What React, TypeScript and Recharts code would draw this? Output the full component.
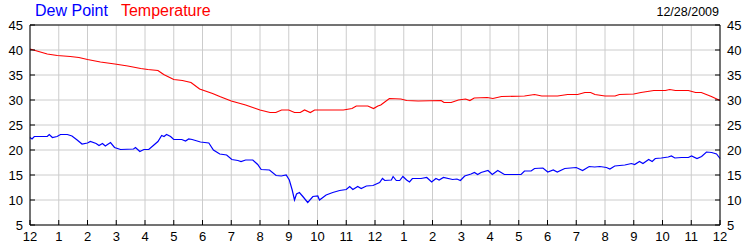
import { LineChart, Line, XAxis, YAxis, CartesianGrid } from 'recharts';

// hours since midnight, value in °F
const temperature: [number, number][] = [
  [0, 40.2], [0.3, 39.7], [0.6, 39.2], [0.95, 38.9], [1.4, 38.7], [1.7, 38.5], [2.0, 38.1],
  [2.45, 37.6], [2.95, 37.2], [3.4, 36.8], [3.85, 36.3], [4.1, 36.1], [4.45, 35.9], [4.65, 35.1],
  [5.0, 34.1], [5.3, 33.9], [5.6, 33.5], [5.9, 32.2], [6.35, 31.3], [6.6, 30.7], [7.0, 29.8],
  [7.5, 29.0], [8.0, 28.0], [8.35, 27.5], [8.55, 27.5], [8.75, 28.0], [9.0, 28.0], [9.2, 27.5],
  [9.4, 27.5], [9.55, 28.0], [9.75, 27.5], [9.9, 28.0], [10.9, 28.0], [11.2, 28.3], [11.35, 28.8],
  [11.75, 28.8], [11.95, 28.3], [12.1, 28.8], [12.2, 29.0], [12.5, 30.3], [12.9, 30.2],
  [13.1, 29.9], [13.5, 29.8], [14.3, 29.9], [14.4, 29.5], [14.65, 29.5], [14.9, 30.0],
  [15.15, 30.2], [15.3, 29.9], [15.45, 30.4], [15.9, 30.5], [16.1, 30.3], [16.4, 30.7],
  [17.2, 30.8], [17.55, 31.1], [17.8, 30.8], [18.35, 30.8], [18.7, 31.1], [19.05, 31.1],
  [19.3, 31.5], [19.5, 31.5], [19.65, 31.1], [20.0, 30.8], [20.35, 30.8], [20.5, 31.1],
  [21.0, 31.2], [21.25, 31.5], [21.7, 31.9], [22.1, 31.9], [22.25, 32.1], [22.45, 31.9],
  [22.9, 31.9], [23.15, 31.5], [23.35, 31.5], [23.7, 30.7], [24.0, 29.9],
];

const dewPoint: [number, number][] = [
  [0, 22.5], [0.07, 22.2], [0.15, 22.7], [0.6, 22.7], [0.67, 23.1], [0.78, 22.5], [0.94, 22.7],
  [1.06, 23.1], [1.3, 23.1], [1.46, 22.8], [1.64, 22.0], [1.81, 21.2], [2.0, 21.4], [2.1, 21.7],
  [2.3, 21.3], [2.4, 20.9], [2.52, 21.3], [2.62, 20.8], [2.8, 21.5], [2.94, 20.5], [3.15, 20.1],
  [3.6, 20.2], [3.67, 20.5], [3.82, 19.7], [3.96, 20.1], [4.13, 20.1], [4.31, 21.0], [4.45, 21.7],
  [4.58, 22.9], [4.66, 22.7], [4.75, 23.1], [4.89, 22.7], [5.0, 22.1], [5.28, 22.1], [5.41, 21.8],
  [5.52, 22.2], [5.64, 22.1], [5.93, 21.6], [6.22, 21.4], [6.38, 20.0], [6.6, 19.2], [6.84, 19.0],
  [7.02, 18.1], [7.23, 17.9], [7.34, 17.7], [7.5, 18.0], [7.75, 18.0], [7.92, 17.1], [8.04, 16.1],
  [8.33, 16.0], [8.56, 14.9], [8.74, 14.8], [8.91, 15.0], [9.02, 14.0], [9.12, 12.0], [9.2, 10.0],
  [9.27, 11.2], [9.37, 11.5], [9.49, 10.7], [9.66, 9.5], [9.84, 10.7], [10.01, 10.8], [10.07, 10.0],
  [10.3, 11.0], [10.53, 11.5], [10.77, 11.9], [11.0, 12.1], [11.12, 12.7], [11.23, 12.1],
  [11.4, 12.7], [11.52, 12.3], [11.7, 12.8], [11.93, 12.9], [12.16, 13.5], [12.26, 14.3],
  [12.34, 13.9], [12.57, 14.0], [12.63, 14.7], [12.74, 13.9], [12.86, 13.9], [12.97, 14.7],
  [13.1, 14.0], [13.2, 13.6], [13.3, 14.3], [13.6, 14.3], [13.8, 14.5], [13.97, 13.6],
  [14.12, 14.3], [14.23, 14.0], [14.38, 14.5], [14.7, 14.1], [14.85, 14.2], [14.97, 13.9],
  [15.12, 14.8], [15.34, 15.2], [15.46, 15.5], [15.57, 15.1], [15.69, 15.5], [15.93, 15.9],
  [16.08, 15.1], [16.27, 15.9], [16.5, 15.1], [17.08, 15.1], [17.2, 15.8], [17.43, 15.8],
  [17.55, 16.3], [17.84, 16.4], [18.01, 15.6], [18.2, 16.0], [18.34, 15.6], [18.6, 16.3],
  [19.0, 16.5], [19.22, 15.9], [19.45, 16.7], [19.64, 16.6], [19.82, 16.7], [20.05, 16.5],
  [20.17, 16.2], [20.34, 16.8], [20.69, 17.0], [20.92, 17.3], [21.03, 17.1], [21.2, 17.7],
  [21.32, 17.3], [21.52, 18.1], [21.64, 17.7], [21.75, 18.3], [21.96, 18.4], [22.2, 18.6],
  [22.31, 18.8], [22.43, 18.4], [22.66, 18.5], [22.9, 18.5], [23.01, 18.8], [23.2, 18.3],
  [23.36, 18.7], [23.53, 19.6], [23.71, 19.5], [23.88, 19.2], [24.0, 18.3],
];

const hourTicks = [0, 1, 2, 3, 4, 5, 6, 7, 8, 9, 10, 11, 12, 13, 14, 15, 16, 17, 18, 19, 20, 21, 22, 23, 24];
const valueTicks = [5, 10, 15, 20, 25, 30, 35, 40, 45];
const dateLabel = '12/28/2009';

const FONT = '"Liberation Sans", Arial, sans-serif';
const tickStyle = { fill: '#000', fontSize: 13, fontFamily: FONT };

const toPoints = (rows: [number, number][]) => rows.map(([h, v]) => ({ h, v }));
const hourLabel = (h: number) => String(h % 12 === 0 ? 12 : h % 12);

export default function App() {
  const tempData = toPoints(temperature);
  const dewData = toPoints(dewPoint);

  return (
    <div style={{ position: 'absolute', left: 0, top: 0, width: 750, height: 250, background: '#fff', fontFamily: FONT }}>
      <div style={{ position: 'absolute', left: 35, top: 2, fontSize: 16, lineHeight: '18px', whiteSpace: 'nowrap' }}>
        <span style={{ color: '#0000ff' }}>Dew Point</span>
        <span style={{ color: '#ff0000', marginLeft: 13 }}>Temperature</span>
      </div>
      <div style={{ position: 'absolute', right: 31, top: 5, fontSize: 12.5, lineHeight: '14px', color: '#000' }}>
        {dateLabel}
      </div>
      <LineChart width={750} height={250} margin={{ top: 0, right: 0, bottom: 0, left: 0 }}>
        <CartesianGrid stroke="#cccccc" />
        <XAxis
          dataKey="h"
          type="number"
          domain={[0, 24]}
          ticks={hourTicks}
          tickFormatter={hourLabel}
          interval={0}
          height={25}
          axisLine={{ stroke: '#000' }}
          tickLine={{ stroke: '#000' }}
          tickSize={-5}
          tickMargin={12}
          tick={tickStyle}
        />
        <XAxis
          xAxisId="top"
          orientation="top"
          dataKey="h"
          type="number"
          domain={[0, 24]}
          ticks={hourTicks}
          tickFormatter={() => ''}
          interval={0}
          height={25}
          axisLine={{ stroke: '#000' }}
          tickLine={{ stroke: '#000' }}
          tickSize={-5}
        />
        <YAxis
          type="number"
          domain={[5, 45]}
          ticks={valueTicks}
          interval={0}
          width={30}
          axisLine={{ stroke: '#000' }}
          tickLine={{ stroke: '#000' }}
          tickSize={-5}
          tickMargin={12}
          tick={tickStyle}
          allowDataOverflow
        />
        <YAxis
          yAxisId="right"
          orientation="right"
          type="number"
          domain={[5, 45]}
          ticks={valueTicks}
          interval={0}
          width={30}
          axisLine={{ stroke: '#000' }}
          tickLine={{ stroke: '#000' }}
          tickSize={-5}
          tickMargin={12}
          tick={tickStyle}
          allowDataOverflow
        />
        <Line
          data={dewData}
          dataKey="v"
          name="Dew Point"
          type="linear"
          stroke="#0000ff"
          strokeWidth={1.2}
          dot={false}
          activeDot={false}
          isAnimationActive={false}
        />
        <Line
          data={tempData}
          dataKey="v"
          name="Temperature"
          type="linear"
          stroke="#ff0000"
          strokeWidth={1.2}
          dot={false}
          activeDot={false}
          isAnimationActive={false}
        />
      </LineChart>
    </div>
  );
}
